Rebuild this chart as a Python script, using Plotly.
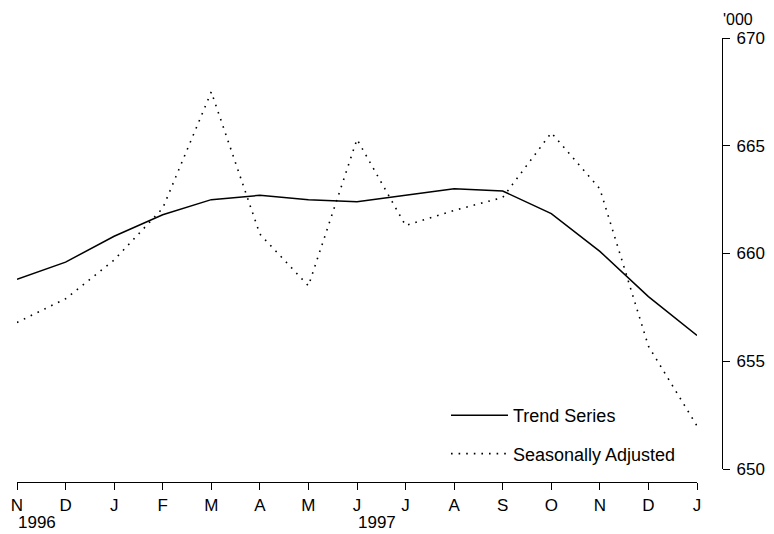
import plotly.graph_objects as go

months = ["N", "D", "J", "F", "M", "A", "M", "J", "J", "A", "S", "O", "N", "D", "J"]
year_labels = ["1996", "1997"]
year_index = [0, 7]
trend = [658.8, 659.6, 660.8, 661.8, 662.5, 662.7, 662.5, 662.4, 662.7, 663.0, 662.9, 661.85, 660.1, 658.0, 656.2]
seas_adj = [656.8, 657.9, 659.7, 662.1, 667.5, 660.9, 658.5, 665.3, 661.3, 662.0, 662.6, 665.6, 663.0, 655.7, 652.0]
y_ticks = [650, 655, 660, 665, 670]

x = list(range(len(months)))
FONT = "Liberation Sans, Arial, Helvetica, sans-serif"

fig = go.Figure()
fig.add_trace(go.Scatter(x=x, y=trend, mode="lines", name="Trend Series",
                         legendgroup="a",
                         line=dict(color="black", width=1.5)))
fig.add_trace(go.Scatter(x=x, y=seas_adj, mode="lines", name="Seasonally Adjusted",
                         legendgroup="b",
                         line=dict(color="black", width=1.6, dash="1.6px,6px")))

# page body has an 8px margin; figure laid out in page coordinates minus 8
OFF = 8
W, H = 774 - OFF, 534 - OFF
X0, X1 = 17, 697        # first / last month (page px)
YAX = 722               # y axis line (page px)
YTOP, YBOT, XAX = 38, 469, 482   # 670, 650, x axis line (page px)
L, T = X0 - OFF, YTOP - OFF
R = W - (YAX - OFF)
B = H - (XAX - OFF)
pw = W - L - R
ph = H - T - B

fig.update_layout(
    width=W, height=H,
    margin=dict(l=L, r=R, t=T, b=B, pad=0, autoexpand=False),
    paper_bgcolor="white", plot_bgcolor="white",
    font=dict(family=FONT, size=17, color="black"),
    showlegend=True,
    legend=dict(x=(446 - X0) / pw, y=(XAX - 397) / ph, xanchor="left", yanchor="top",
                bgcolor="rgba(0,0,0,0)", font=dict(size=18), itemwidth=57,
                tracegroupgap=12, traceorder="grouped"),
    xaxis=dict(domain=[0, (X1 - X0) / pw], range=[0, len(months) - 1],
               anchor="free", position=0, automargin=False,
               tickmode="array", tickvals=x, ticktext=months,
               showgrid=False, zeroline=False, showline=True, linecolor="black",
               linewidth=1.2, ticks="outside", ticklen=7, tickwidth=1.2,
               tickcolor="black", tickfont=dict(size=17)),
    yaxis=dict(domain=[(XAX - YBOT) / ph, 1], range=[650, 670],
               anchor="free", position=1, side="right", automargin=False,
               tickmode="array", tickvals=y_ticks,
               showgrid=False, zeroline=False, showline=True, linecolor="black",
               linewidth=1.2, ticks="outside", ticklen=7, tickwidth=1.2,
               ticklabelstandoff=3,
               tickcolor="black", tickfont=dict(size=17)),
)

for lbl, idx in zip(year_labels, year_index):
    fig.add_annotation(x=idx, y=0, xref="x", yref="paper", text=lbl,
                       showarrow=False, xanchor="left", yanchor="top",
                       xshift=-1, yshift=-29, font=dict(size=17))

fig.add_annotation(x=1, y=1, xref="paper", yref="paper", text="'000",
                   showarrow=False, xanchor="left", yanchor="bottom",
                   xshift=-1, yshift=8, font=dict(size=16))

fig.write_html("out.html")
